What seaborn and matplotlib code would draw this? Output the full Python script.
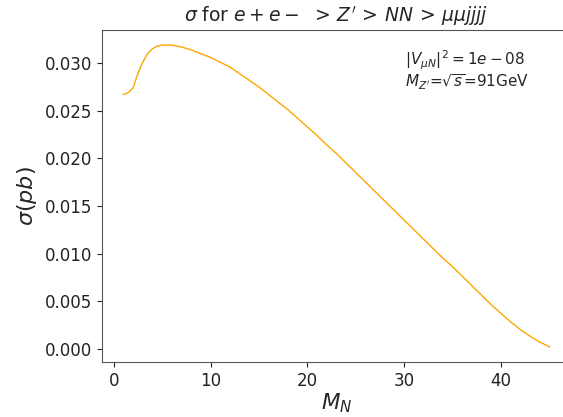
import matplotlib
matplotlib.use("Agg")
import matplotlib.pyplot as plt
import seaborn as sns
import pandas as pd

# Heavy neutrino mass (GeV) and cross-section (pb)
mass = [1, 1.5, 2, 2.5, 3, 3.5, 4, 4.5, 5, 6, 7, 8, 9, 10, 11, 12, 13, 14, 15,
        16, 17, 18, 19, 20, 21, 22, 23, 24, 25, 26, 27, 28, 29, 30, 31, 32, 33,
        34, 35, 36, 37, 38, 39, 40, 41, 42, 43, 44, 45]
sigma = [0.0267, 0.0269, 0.0274, 0.0289, 0.0301, 0.0310, 0.0315, 0.0318, 0.0319,
         0.0319, 0.0317, 0.0314, 0.0310, 0.0306, 0.0301, 0.0296, 0.0289, 0.0282,
         0.0275, 0.0267, 0.0259, 0.0251, 0.0242, 0.0233, 0.0224, 0.0214, 0.0205,
         0.0195, 0.0185, 0.0175, 0.0165, 0.0155, 0.0145, 0.0135, 0.0125, 0.0115,
         0.0105, 0.0095, 0.0086, 0.0076, 0.0066, 0.0056, 0.0046, 0.0037, 0.0028,
         0.0020, 0.0013, 0.0007, 0.0002]

title = r"$\sigma$ for $e+e-\;\, >\, Z'\, >\, NN\, >\, \mu\mu jjjj$"
xlabel = r"$M_N$"
ylabel = r"$\sigma(pb)$"
note = r"$|V_{\mu N}|^2 = 1e-08$" + "\n" + r"$M_{Z'}$=$\sqrt{s}$=91GeV"

sns.set_style("ticks")
plt.rcParams["font.family"] = ["DejaVu Sans"]

df = pd.DataFrame({"M": mass, "sigma": sigma})

fig = plt.figure(figsize=(5.63, 4.17), dpi=100)
ax = fig.add_axes([102 / 563, (417 - 362) / 417, (571 - 102) / 563, (362 - 30) / 417])
sns.lineplot(data=df, x="M", y="sigma", color="orange", linewidth=1.0, ax=ax)

ax.set_xticks([0, 10, 20, 30, 40])
ax.set_yticks([0.0, 0.005, 0.010, 0.015, 0.020, 0.025, 0.030])
ax.tick_params(labelsize=12, colors="#222222")
for s in ax.spines.values():
    s.set_color("#555555")
ax.spines["right"].set_visible(False)
ax.set_xlabel(xlabel, fontsize=15.5, labelpad=1)
ax.set_ylabel(ylabel, fontsize=16)
ax.set_title(title, fontsize=13.5)
ax.text(0.646, 0.945, note, transform=ax.transAxes, fontsize=11,
        va="top", ha="left", linespacing=1.05)

fig.savefig("out.png", dpi=100)
